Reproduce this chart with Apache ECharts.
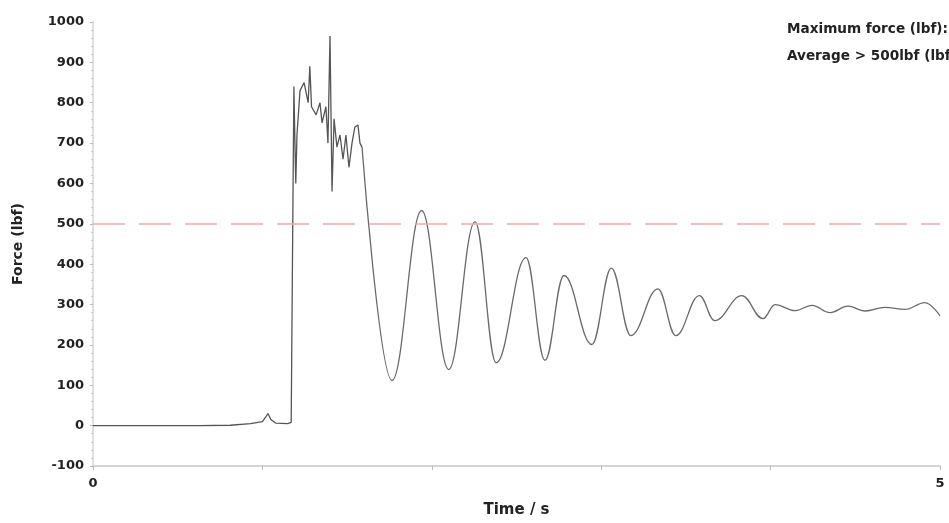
<!DOCTYPE html>
<html>
<head>
<meta charset="utf-8">
<script src="https://cdn.jsdelivr.net/npm/echarts@6/dist/echarts.min.js"></script>
<style>
html,body{margin:0;padding:0;background:#fff;}
#chart{width:949px;height:523px;}
</style>
</head>
<body>
<div id="chart"></div>
<script>
// Impact segment (raw, unsmoothed): time in s, force in lbf
const impactTime = [0, 0.63, 0.81, 0.93, 1.0, 1.02, 1.033, 1.05, 1.08, 1.15, 1.17, 1.18, 1.186, 1.192, 1.197, 1.204, 1.222, 1.246, 1.27, 1.28, 1.29, 1.317, 1.34, 1.352, 1.375, 1.387, 1.399, 1.411, 1.423, 1.44, 1.458, 1.476, 1.493, 1.511, 1.529, 1.546, 1.564, 1.576, 1.588];
const impactForce = [0, 0, 1, 5, 10, 22, 30, 15, 6, 5, 8, 540, 840, 700, 600, 720, 830, 850, 800, 890, 790, 770, 800, 750, 790, 700, 965, 580, 760, 690, 720, 660, 720, 640, 700, 740, 745, 700, 690];
// Rebound oscillation segment (peaks and troughs, drawn smooth)
const reboundTime = [1.588, 1.765, 1.94, 2.1, 2.255, 2.38, 2.556, 2.668, 2.78, 2.945, 3.06, 3.175, 3.335, 3.44, 3.58, 3.67, 3.83, 3.955, 4.026, 4.144, 4.244, 4.351, 4.457, 4.557, 4.675, 4.793, 4.911, 5.0];
const reboundForce = [690, 112, 533, 139, 505, 156, 416, 162, 372, 201, 390, 223, 339, 223, 322, 260, 322, 265, 300, 285, 298, 280, 296, 284, 293, 288, 305, 272];
const threshold = 500;
const yTicks = {min: -100, max: 1000, interval: 100};
const xTicks = {min: 0, max: 5, interval: 1};
const textLines = ['Maximum force (lbf):', 'Average > 500lbf (lbf):'];

const zip = (a, b) => a.map((v, i) => [v, b[i]]);
const chart = echarts.init(document.getElementById('chart'));
const font = '"DejaVu Sans", Verdana, sans-serif';
chart.setOption({
  animation: false,
  backgroundColor: '#fff',
  grid: {left: 93, right: 9, top: 22, bottom: 56, containLabel: false},
  xAxis: {
    type: 'value', min: xTicks.min, max: xTicks.max, interval: xTicks.interval,
    name: 'Time / s', nameLocation: 'middle', nameGap: 37,
    nameTextStyle: {fontFamily: font, fontWeight: 'bold', fontSize: 15, color: '#222'},
    axisLine: {show: true, onZero: false, lineStyle: {color: '#d4d4d4', width: 2}},
    axisTick: {show: true, length: 4, lineStyle: {color: '#bbb'}},
    splitLine: {show: false},
    axisLabel: {
      fontFamily: font, fontWeight: 'bold', fontSize: 13, color: '#222', margin: 11,
      formatter: v => (v === xTicks.min || v === xTicks.max) ? String(v) : ''
    }
  },
  yAxis: {
    type: 'value', min: yTicks.min, max: yTicks.max, interval: yTicks.interval,
    name: 'Force (lbf)', nameLocation: 'middle', nameGap: 68,
    nameTextStyle: {fontFamily: font, fontWeight: 'bold', fontSize: 14, color: '#222'},
    axisLine: {show: true, onZero: false, lineStyle: {color: '#d4d4d4', width: 1.5}},
    axisTick: {show: true, length: 3, lineStyle: {color: '#bbb'}},
    minorTick: {show: true, splitNumber: 5, length: 2, lineStyle: {color: '#ccc'}},
    splitLine: {show: false},
    axisLabel: {fontFamily: font, fontWeight: 'bold', fontSize: 13, color: '#222', margin: 9,
      formatter: v => String(v)}
  },
  series: [
    {
      type: 'line', data: zip(impactTime, impactForce), showSymbol: false, smooth: false,
      lineStyle: {color: '#555', width: 1.3}, z: 3,
      markLine: {
        silent: true, symbol: 'none', label: {show: false},
        lineStyle: {color: '#f0a8a8', width: 1.5, type: [32, 14]},
        data: [{yAxis: threshold}]
      }
    },
    {
      type: 'line', data: zip(reboundTime, reboundForce), showSymbol: false,
      smooth: 0.4, smoothMonotone: 'x',
      lineStyle: {color: '#6a6a6a', width: 1.3}, z: 3
    }
  ],
  graphic: textLines.map((t, i) => ({
    type: 'text', left: 787, top: 22 + i * 27,
    style: {text: t, font: 'bold 13.6px ' + font, fill: '#222'}
  }))
});
</script>
</body>
</html>
